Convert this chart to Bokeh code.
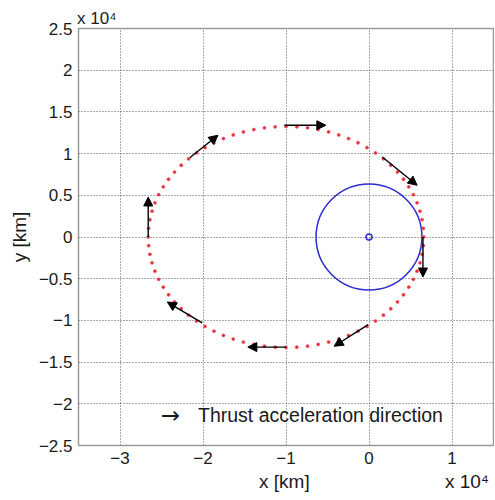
from bokeh.plotting import figure
from bokeh.models import Range1d, FixedTicker, Label, Arrow, NormalHead, ColumnDataSource, LinearAxis
from bokeh.embed import file_html
from bokeh.resources import INLINE

# ---- data (km) ----
orbit_x = [6600, 6549, 6396, 6141, 5788, 5336, 4791, 4154, 3430, 2623, 1738, 781, -243, -1327, -2464,
           -3648, -4870, -6125, -7403, -8698, -10000,
           -11302, -12597, -13875, -15130, -16352, -17536, -18674, -19757, -20781, -21738, -22623,
           -23430, -24154, -24791, -25336, -25788, -26141, -26396, -26549, -26600,
           -26549, -26396, -26141, -25788, -25336, -24791, -24154, -23430, -22623, -21738, -20781,
           -19757, -18674, -17536, -16352, -15130, -13875, -12597, -11302, -10000,
           -8698, -7403, -6125, -4870, -3648, -2464, -1327, -243, 781, 1738, 2623, 3430, 4154, 4791,
           5336, 5788, 6141, 6396, 6549]
orbit_y = [0, 1040, 2073, 3093, 4095, 5071, 6015, 6923, 7788, 8605, 9369, 10075, 10720, 11298, 11806,
           12241, 12602, 12884, 13087, 13209, 13250,
           13209, 13087, 12884, 12602, 12241, 11806, 11298, 10720, 10075, 9369, 8605, 7788, 6923,
           6015, 5071, 4095, 3093, 2073, 1040, 0,
           -1040, -2073, -3093, -4095, -5071, -6015, -6923, -7788, -8605, -9369, -10075, -10720,
           -11298, -11806, -12241, -12602, -12884, -13087, -13209, -13250,
           -13209, -13087, -12884, -12602, -12241, -11806, -11298, -10720, -10075, -9369, -8605,
           -7788, -6923, -6015, -5071, -4095, -3093, -2073, -1040]

earth_x = [0]
earth_y = [0]
earth_r = [6378]

arrow_x0 = [-26600, -21600, -10200, 1600, 6500, -100, -10000, -20100]
arrow_y0 = [0, 9500, 13400, 9600, 0, -10500, -13200, -10300]
arrow_x1 = [-26600, -18200, -5200, 5800, 6500, -4200, -14600, -24300]
arrow_y1 = [4800, 12200, 13400, 6200, -4800, -13100, -13200, -7800]

x_ticks = [-30000, -20000, -10000, 0, 10000]
x_tick_labels = ["\u22123", "\u22122", "\u22121", "0", "1"]
y_ticks = [25000, 20000, 15000, 10000, 5000, 0, -5000, -10000, -15000, -20000, -25000]
y_tick_labels = ["2.5", "2", "1.5", "1", "0.5", "0", "\u22120.5", "\u22121", "\u22121.5", "\u22122", "\u22122.5"]

x_label = "x [km]"
y_label = "y [km]"
exponent_label = "x 10\u2074"
legend_text = "Thrust acceleration direction"

FONT = "Liberation Sans"
TXT = "#1a1a1a"

p = figure(output_backend="svg", toolbar_location=None,
           x_range=Range1d(-35000, 15000), y_range=Range1d(-25000, 25000),
           frame_width=415, frame_height=417,
           min_border_left=78, min_border_right=1, min_border_top=28, min_border_bottom=50)
p.background_fill_color = "white"
p.border_fill_color = "white"
p.outline_line_color = "#9a9a9a"
p.outline_line_width = 1.5


def style_axis(ax):
    ax.major_label_text_font = FONT
    ax.major_label_text_font_size = "17px"
    ax.major_label_text_color = TXT
    ax.axis_line_color = None
    ax.major_tick_line_color = None
    ax.minor_tick_line_color = None
    ax.major_tick_in = 0
    ax.major_tick_out = 0
    ax.axis_label_text_font = FONT
    ax.axis_label_text_font_size = "19px"
    ax.axis_label_text_font_style = "normal"
    ax.axis_label_text_color = TXT


for ax, ticks, labels in ((p.xaxis[0], x_ticks, x_tick_labels), (p.yaxis[0], y_ticks, y_tick_labels)):
    style_axis(ax)
    ax.ticker = FixedTicker(ticks=ticks)
    ax.major_label_overrides = {t: l for t, l in zip(ticks, labels)}
    ax.major_label_standoff = 6

p.yaxis.axis_label = y_label
p.yaxis.axis_label_standoff = 6

# second bottom axis row carrying "x [km]" and the exponent
lab_ticks = [-10200, 11800]
ax2 = LinearAxis(ticker=FixedTicker(ticks=lab_ticks),
                 major_label_overrides={lab_ticks[0]: x_label, lab_ticks[1]: exponent_label})
style_axis(ax2)
ax2.major_label_text_font_size = "19px"
ax2.major_label_standoff = 4
p.add_layout(ax2, "below")

# top exponent
top_ticks = [-32800]
ax3 = LinearAxis(ticker=FixedTicker(ticks=top_ticks),
                 major_label_overrides={top_ticks[0]: exponent_label})
style_axis(ax3)
ax3.major_label_standoff = 1
p.add_layout(ax3, "above")

for g in (p.xgrid[0], p.ygrid[0]):
    g.grid_line_color = "#555555"
    g.grid_line_dash = "1 2"
    g.grid_line_width = 1
p.xgrid.ticker = FixedTicker(ticks=x_ticks)
p.ygrid.ticker = FixedTicker(ticks=y_ticks)

# Earth
p.circle(x=earth_x, y=earth_y, radius=earth_r, fill_color=None, line_color="#2b2bd0", line_width=1.5)
p.scatter(x=earth_x, y=earth_y, size=6, marker="circle", fill_color=None, line_color="#2b2bd0", line_width=1.5)

# orbit dots
p.scatter(x=orbit_x, y=orbit_y, size=3.3, marker="circle", fill_color="#e52a35", line_color="#f07080",
          line_width=0.5)

# thrust arrows
asrc = ColumnDataSource(dict(x0=arrow_x0, y0=arrow_y0, x1=arrow_x1, y1=arrow_y1))
p.add_layout(Arrow(source=asrc, x_start="x0", y_start="y0", x_end="x1", y_end="y1",
                   line_color="black", line_width=1.4,
                   end=NormalHead(size=9, fill_color="black", line_color="black", line_width=1)))

# legend text
legend_y = -21300
p.add_layout(Label(x=-25100, y=legend_y, text="\u2192", text_font="DejaVu Sans", text_font_size="23px",
                   text_baseline="middle", text_color=TXT))
p.add_layout(Label(x=-20600, y=legend_y, text=legend_text, text_font=FONT,
                   text_font_size="19.5px", text_baseline="middle", text_color=TXT))

open("out.html", "w").write(file_html(p, INLINE))
